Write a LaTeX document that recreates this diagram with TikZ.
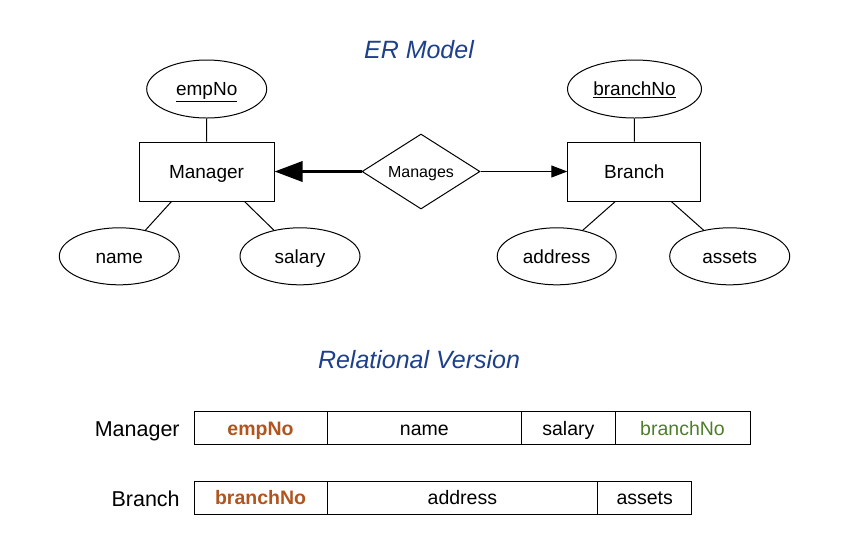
\documentclass[tikz,border=0pt]{standalone}
\usepackage{fontspec}
\setmainfont{Liberation Sans}
\usetikzlibrary{positioning,shapes.geometric,arrows.meta}
\definecolor{titleblue}{RGB}{29,63,140}
\definecolor{keybrown}{RGB}{178,84,30}
\definecolor{fkgreen}{RGB}{78,126,42}
\newcommand{\erfont}{\fontsize{19}{22}\selectfont}
\newcommand{\cellfont}{\fontsize{19.5}{23}\selectfont}
\begin{document}
\begin{tikzpicture}[x=1pt, y=-1pt, line width=1pt,
    entity/.style={draw, text height=13.6pt, text depth=0pt, minimum width=135pt, minimum height=59pt, font=\erfont},
    attr/.style={draw, ellipse, text height=13.6pt, text depth=0pt, minimum width=120pt, minimum height=57pt, inner sep=0pt, font=\erfont},
    rel/.style={draw, diamond, text height=11.5pt, text depth=0pt, minimum width=118pt, minimum height=75pt, inner sep=0pt, aspect=1.57, font=\fontsize{16}{19}\selectfont},
    title/.style={anchor=base, text=titleblue, font=\fontsize{25}{30}\selectfont\itshape},
    cell/.style={draw, text height=14pt, text depth=0pt, minimum height=33pt, inner sep=0pt, outer sep=0pt, font=\cellfont},
    pkey/.style={text=keybrown, font=\cellfont\bfseries},
    tablename/.style={anchor=base east, font=\fontsize{21.5}{26}\selectfont}]
  \useasboundingbox (0,0) rectangle (858,550);

  % ER model
  \node [title] (ertitle) at (419,58) {ER Model};
  \node [entity] (mgr) at (206.5,171.5) {Manager};
  \node [entity, minimum width=133pt] (brn) at (634.3,171.5) {Branch};
  \node [rel] (mng) at (421,171.5) {Manages};
  \node [attr, minimum height=58pt] (empno) at (206.7,89) {\underline{empNo}};
  \node [attr, minimum width=134pt, minimum height=58pt] (brno) at (634.5,89) {\underline{branchNo}};
  \node [attr] (name) at (119.3,256.3) {name};
  \node [attr] (salary) at (300,256.3) {salary};
  \node [attr, minimum width=119pt] (address) at (556.7,256.3) {address};
  \node [attr] (assets) at (729.7,256.3) {assets};

  \draw (empno) -- (mgr);
  \draw ([xshift=-35pt]mgr.south) -- (name.45);
  \draw ([xshift=38pt]mgr.south) -- (salary.135);
  \draw (brno) -- (brn);
  \draw ([xshift=-19pt]brn.south) -- (address.45);
  \draw ([xshift=37pt]brn.south) -- (assets.135);
  \draw [line width=3.5pt, -{Triangle[length=28pt, width=20pt]}] (mng) -- (mgr);
  \draw [-{Triangle[length=16pt, width=12pt]}] (mng) -- (brn);

  % relational version
  \node [title] (reltitle) at (419,368) {Relational Version};
  \node [tablename] (mgrlabel) at (183.5,436) {Manager};
  \node [cell, pkey, minimum width=133pt, anchor=west] (m1) at (194,428) {empNo};
  \node [cell, minimum width=194.7pt, right=0pt of m1] (m2) {name};
  \node [cell, minimum width=93.3pt, right=0pt of m2] (m3) {salary};
  \node [cell, minimum width=135pt, right=0pt of m3, text=fkgreen] (m4) {branchNo};

  \node [tablename] (brnlabel) at (183.5,506) {Branch};
  \node [cell, pkey, minimum width=133pt, anchor=west] (b1) at (194,497.7) {branchNo};
  \node [cell, minimum width=270.7pt, right=0pt of b1] (b2) {address};
  \node [cell, minimum width=94pt, right=0pt of b2] (b3) {assets};
\end{tikzpicture}
\end{document}
